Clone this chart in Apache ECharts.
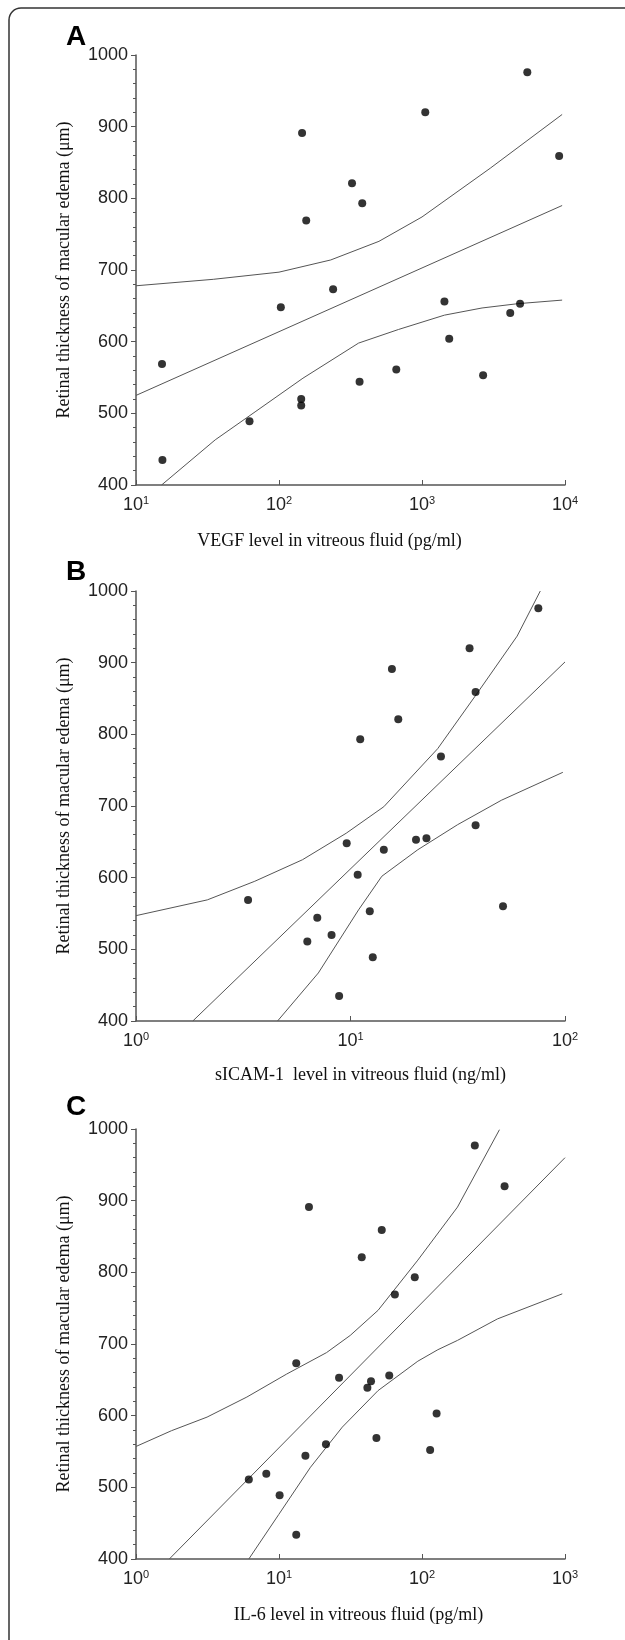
<!DOCTYPE html>
<html><head><meta charset="utf-8">
<script src="https://cdn.jsdelivr.net/npm/echarts@6/dist/echarts.min.js"></script>
<style>html,body{margin:0;padding:0;background:#fff}#c{width:625px;height:1640px}</style>
</head><body><div id="c"></div>
<script>
// ---------- Data ----------
const yTicks = [400, 500, 600, 700, 800, 900, 1000];
const panelLetters = ['A', 'B', 'C'];
const xTitles = ['VEGF level in vitreous fluid (pg/ml)', 'sICAM-1  level in vitreous fluid (ng/ml)', 'IL-6 level in vitreous fluid (pg/ml)'];
const yTitle = 'Retinal thickness of macular edema (\u03bcm)';

// Panel A: VEGF (pg/ml)
const vegf   = [5450, 1054, 145, 9100, 324, 382, 155, 239, 103, 1435, 4850, 4140, 1550, 15.2, 661, 366, 2675, 143, 143, 62.2, 15.3];
const thickA = [976, 920, 891, 859, 821, 793, 769, 673, 648, 656, 653, 640, 604, 569, 561, 544, 553, 520, 511, 489, 435];
const regA   = [[10, 525], [9550, 790]];
const upA    = [[10, 678], [34.7, 687], [100, 697], [230, 714], [500, 740], [1000, 774], [3000, 842], [9550, 917]];
const loA    = [[15.1, 400], [35.8, 463], [68, 502], [147, 549], [360, 598], [685, 617], [1435, 637], [2630, 647], [4680, 653], [9550, 658]];

// Panel B: sICAM-1 (ng/ml)
const sicam  = [75.1, 35.9, 15.6, 38.3, 16.7, 11.1, 26.4, 38.3, 22.6, 20.2, 9.6, 14.3, 10.8, 3.33, 51.4, 12.3, 7.0, 8.16, 6.29, 12.7, 8.85];
const thickB = [976, 920, 891, 859, 821, 793, 769, 673, 655, 653, 648, 639, 604, 569, 560, 553, 544, 520, 511, 489, 435];
const regB   = [[1.84, 400], [100, 901]];
const upB    = [[1.0, 547], [2.15, 569], [3.58, 595], [5.97, 625], [9.55, 662], [14.3, 699], [25.5, 780], [39.1, 858], [59.8, 937], [76.7, 1000]];
const loB    = [[4.57, 400], [7.08, 467], [10.9, 555], [14.0, 602], [20.6, 639], [31.6, 674], [50.5, 708], [97.7, 747]];

// Panel C: IL-6 (pg/ml)
const il6    = [234, 378, 16.2, 52.3, 37.9, 89, 64.6, 13.2, 26.3, 44, 59, 41.5, 126.5, 48, 21.3, 114, 15.3, 8.15, 6.15, 10.1, 13.2];
const thickC = [977, 920, 891, 859, 821, 793, 769, 673, 653, 648, 656, 639, 603, 569, 560, 552, 544, 519, 511, 489, 434];
const regC   = [[1.71, 400], [1000, 960]];
const upC    = [[1.0, 557], [1.77, 579], [3.14, 598], [5.96, 626], [11.3, 658], [21.5, 688], [31.5, 712], [49.3, 747], [93.5, 817], [177, 891], [348, 999]];
const loC    = [[6.15, 400], [9.95, 462], [16.6, 528], [27.7, 584], [49.3, 635], [93.5, 676], [129, 692], [177, 705], [337, 735], [957, 770]];

const xRanges = [[10, 10000], [1, 100], [1, 1000]];

// ---------- Build chart ----------
const panels = [
  {x: vegf, y: thickA, reg: regA, up: upA, lo: loA},
  {x: sicam, y: thickB, reg: regB, up: upB, lo: loB},
  {x: il6, y: thickC, reg: regC, up: upC, lo: loC}
];
const gridTops = [55, 591, 1129];
const letterTops = [23, 558, 1093];
const titleShift = [-21, 10, 8];
const labelFont = '"Liberation Sans Narrow", "Liberation Sans", Arial, sans-serif';
const serif = '"Liberation Serif", "Times New Roman", serif';
const axisColor = '#555';

const grid = [], xAxis = [], yAxis = [], series = [], graphic = [];
panels.forEach((p, i) => {
  grid.push({left: 136, top: gridTops[i], width: 429, height: 430});
  xAxis.push({
    type: 'log', logBase: 10, gridIndex: i, min: xRanges[i][0], max: xRanges[i][1],
    axisLine: {lineStyle: {color: axisColor, width: 1.5}},
    axisTick: {inside: true, length: 5, lineStyle: {color: axisColor}},
    splitLine: {show: false},
    axisLabel: {
      margin: 10, color: '#222',
      formatter: v => '{b|10}{s|' + Math.round(Math.log10(v)) + '}',
      rich: {
        b: {fontFamily: labelFont, fontSize: 18, lineHeight: 20, color: '#222'},
        s: {fontFamily: labelFont, fontSize: 11, lineHeight: 20, verticalAlign: 'top', color: '#222'}
      }
    },
    name: xTitles[i], nameLocation: 'middle', nameGap: [47, 45, 47][i],
    nameTextStyle: {fontFamily: serif, fontSize: 18, color: '#111',
      padding: titleShift[i] < 0 ? [0, -2 * titleShift[i], 0, 0] : [0, 0, 0, 2 * titleShift[i]]}
  });
  yAxis.push({
    type: 'value', gridIndex: i, min: yTicks[0], max: yTicks[yTicks.length - 1], interval: 100,
    axisLine: {show: true, lineStyle: {color: axisColor, width: 1.5}},
    axisTick: {show: true, length: 5, lineStyle: {color: axisColor}},
    minorTick: {show: true, splitNumber: 5, length: 3, lineStyle: {color: axisColor}},
    splitLine: {show: false},
    axisLabel: {margin: 8, fontFamily: labelFont, fontSize: 18, color: '#222', formatter: v => String(v)},
    name: yTitle, nameLocation: 'middle', nameGap: 63, nameRotate: 90,
    nameTextStyle: {fontFamily: serif, fontSize: 18, color: '#111'}
  });
  const lineStyle = {color: '#555', width: 1};
  series.push({
    type: 'scatter', xAxisIndex: i, yAxisIndex: i, symbolSize: 8,
    itemStyle: {color: '#000'}, data: p.x.map((v, k) => [v, p.y[k]]), z: 5
  });
  series.push({type: 'line', xAxisIndex: i, yAxisIndex: i, data: p.reg, showSymbol: false, lineStyle});
  series.push({type: 'line', xAxisIndex: i, yAxisIndex: i, data: p.up, showSymbol: false, lineStyle});
  series.push({type: 'line', xAxisIndex: i, yAxisIndex: i, data: p.lo, showSymbol: false, lineStyle});
  graphic.push({
    type: 'text', left: 66, top: letterTops[i],
    style: {text: panelLetters[i], font: 'bold 28px "Liberation Sans", Arial, sans-serif', fill: '#000'}
  });
});
graphic.push({
  type: 'rect', shape: {x: 9, y: 8, width: 660, height: 1680, r: 12},
  style: {fill: 'none', stroke: '#333', lineWidth: 1.5}, z: -1
});

const chart = echarts.init(document.getElementById('c'), null, {renderer: 'canvas'});
chart.setOption({animation: false, backgroundColor: '#fff', grid, xAxis, yAxis, series, graphic});
</script></body></html>
